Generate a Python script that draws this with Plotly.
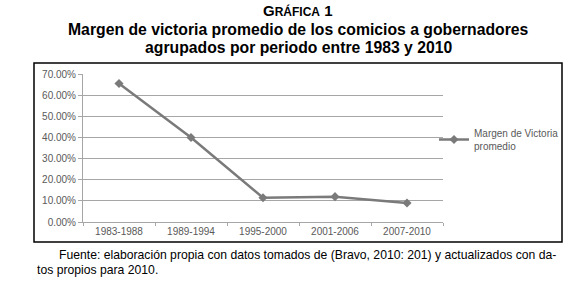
import plotly.graph_objects as go

categories = ["1983-1988", "1989-1994", "1995-2000", "2001-2006", "2007-2010"]
margen = [0.655, 0.40, 0.115, 0.12, 0.09]
series_name = "Margen de Victoria<br>promedio"

W, H = 580, 288
L, R, T, B = 83, 443, 74, 222  # plot area in px

def px(x):
    return (x - L) / (R - L)

def py(y):
    return (B - y) / (B - T)

fig = go.Figure()
fig.add_trace(go.Scatter(
    x=categories, y=margen, mode="lines+markers", name=series_name,
    line=dict(color="#7a7a7a", width=2.5),
    marker=dict(symbol="diamond", size=7, color="#7a7a7a"),
))

fig.update_layout(
    width=W, height=H,
    margin=dict(l=L, r=W - R, t=T, b=H - B, pad=0),
    paper_bgcolor="white", plot_bgcolor="white",
    font=dict(family="Liberation Sans", color="#595959", size=10),
    showlegend=True,
    legend=dict(x=px(434), y=py(120), xanchor="left", yanchor="top",
                font=dict(size=10, color="#595959", family="Liberation Sans"),
                bgcolor="rgba(0,0,0,0)", itemwidth=30, tracegroupgap=0),
    xaxis=dict(type="category", range=[-0.5, 4.5], showgrid=False,
               showline=True, linecolor="#a6a6a6", linewidth=1,
               ticks="outside", tickson="boundaries", ticklen=3, tickcolor="#a6a6a6",
               tickfont=dict(size=10, color="#595959")),
    yaxis=dict(range=[0, 0.7], dtick=0.1, tickformat=".2%",
               showgrid=True, gridcolor="#a6a6a6", gridwidth=1,
               showline=True, linecolor="#a6a6a6", linewidth=1,
               ticks="outside", ticklen=4, tickcolor="#a6a6a6",
               tickfont=dict(size=10, color="#595959"), zeroline=False),
)

# outer frame
fig.add_shape(type="rect", xref="paper", yref="paper",
              x0=px(34), x1=px(562), y0=py(242), y1=py(63),
              line=dict(color="black", width=1.5), fillcolor="rgba(0,0,0,0)")

# titles
fig.add_annotation(xref="paper", yref="paper", x=px(298), y=py(10), xanchor="center", yanchor="middle",
                   text="<b>G<span style='font-size:12px'>RÁFICA</span> 1</b>", showarrow=False,
                   font=dict(size=15, color="black", family="Liberation Sans"))
fig.add_annotation(xref="paper", yref="paper", x=px(298), y=py(29), xanchor="center", yanchor="middle",
                   text="<b>Margen de victoria promedio de los comicios a gobernadores</b>", showarrow=False,
                   font=dict(size=15.75, color="black", family="Liberation Sans"))
fig.add_annotation(xref="paper", yref="paper", x=px(298), y=py(47), xanchor="center", yanchor="middle",
                   text="<b>agrupados por periodo entre 1983 y 2010</b>", showarrow=False,
                   font=dict(size=15.75, color="black", family="Liberation Sans"))

# footnote
fig.add_annotation(xref="paper", yref="paper", x=px(57), y=py(255), xanchor="left", yanchor="middle",
                   text="Fuente: elaboración propia con datos tomados de (Bravo, 2010: 201) y actualizados con da-",
                   showarrow=False, font=dict(size=12.2, color="black", family="Liberation Sans"))
fig.add_annotation(xref="paper", yref="paper", x=px(35), y=py(270), xanchor="left", yanchor="middle",
                   text="tos propios para 2010.",
                   showarrow=False, font=dict(size=12.2, color="black", family="Liberation Sans"))

fig.write_html("out.html", config={"displayModeBar": False},
               post_script="document.body.style.margin='0';")
